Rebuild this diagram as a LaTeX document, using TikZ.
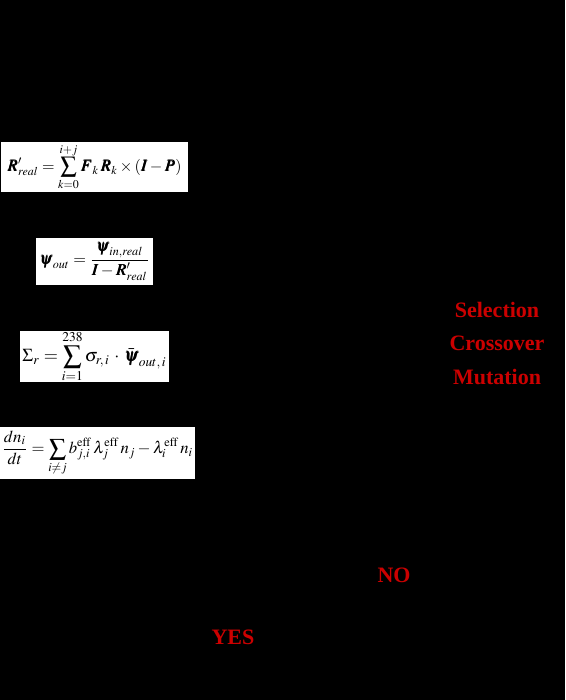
\documentclass[tikz,border=0pt]{standalone}
\usepackage{amsmath}
\usepackage{mathptmx}
\usepackage{bm}
\usepackage{fontspec}
\newfontfamily\redfont{Liberation Serif}
\begin{document}
\begin{tikzpicture}[x=1pt,y=1pt]
\tikzset{
  eqbox/.style={fill=white, draw=none, inner sep=0pt, anchor=center},
  redlabel/.style={text=red!80!black, font=\redfont\bfseries\fontsize{22}{24}\selectfont, inner sep=0pt, anchor=center}
}
\fill[black] (0,0) rectangle (565,700);
\useasboundingbox (0,0) rectangle (565,700);
% equation boxes
\node[eqbox, minimum width=187pt, minimum height=50pt] (eqA) at (94.5,533)
  {\resizebox{174pt}{!}{$\displaystyle \bm{R}'_{real}=\sum_{k=0}^{i+j}\bm{F}_k\,\bm{R}_k\times(\bm{I}-\bm{P})$}};
\node[eqbox, minimum width=117pt, minimum height=47pt] (eqB) at (94.5,438.5)
  {\resizebox{110pt}{!}{$\displaystyle \bm{\psi}_{out}=\frac{\bm{\psi}_{in,real}}{\bm{I}-\bm{R}'_{real}}$}};
\node[eqbox, minimum width=149pt, minimum height=51pt] (eqC) at (94.5,343.5)
  {\resizebox{144pt}{!}{$\displaystyle \Sigma_r=\sum_{i=1}^{238}\sigma_{r,\,i}\,\cdot\,\bar{\bm{\psi}}_{out,\,i}$}};
\node[eqbox, minimum width=195pt, minimum height=52pt] (eqD) at (97.5,247)
  {\resizebox{191pt}{!}{$\displaystyle \frac{dn_i}{dt}=\sum_{i\neq j}b^{\mathrm{eff}}_{j,i}\,\lambda^{\mathrm{eff}}_j\, n_j-\lambda^{\mathrm{eff}}_i\, n_i$}};
% red labels
\node[redlabel] (sel) at (497,390) {Selection};
\node[redlabel] (cro) at (497,357) {Crossover};
\node[redlabel] (mut) at (497,323) {Mutation};
\node[redlabel] (no) at (394,125) {NO};
\node[redlabel] (yes) at (233,63) {YES};
\end{tikzpicture}
\end{document}
